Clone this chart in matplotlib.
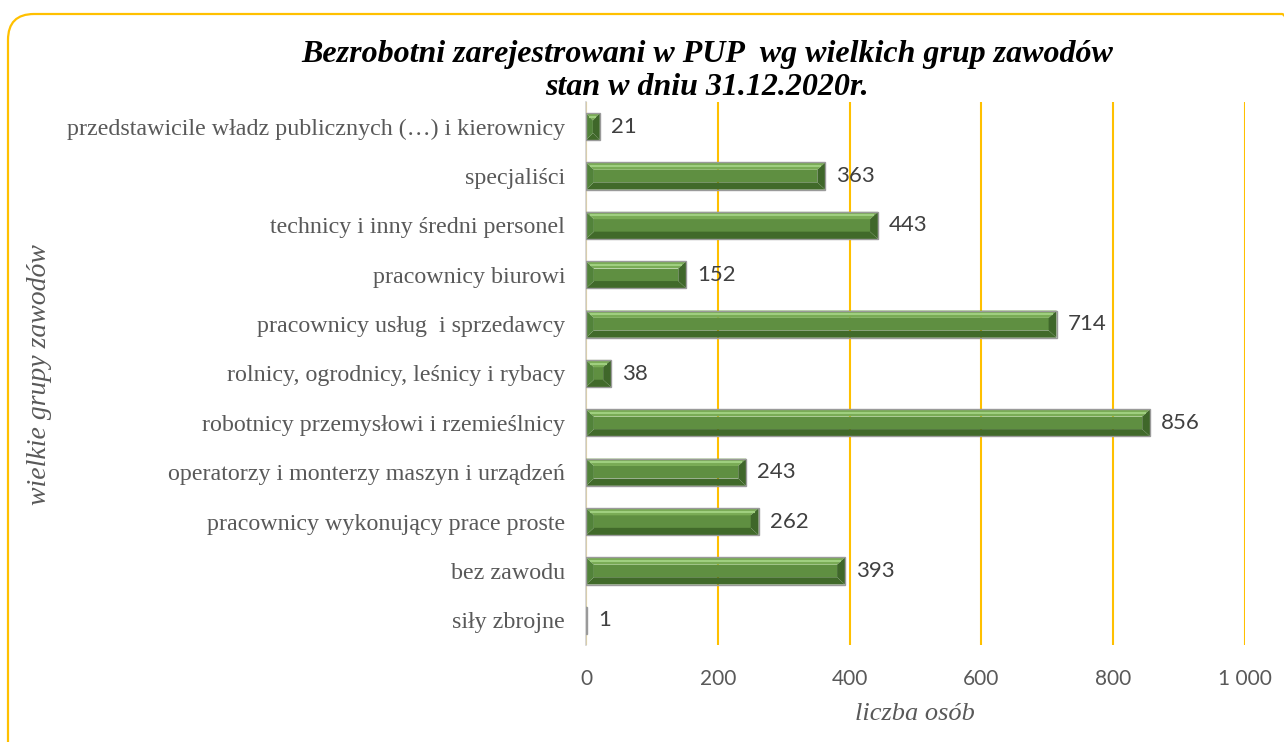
import matplotlib
matplotlib.use("Agg")
import matplotlib.pyplot as plt
from matplotlib.patches import FancyBboxPatch
from matplotlib.ticker import FuncFormatter

# data (top to bottom)
categories = [
    "przedstawicile władz publicznych (…) i kierownicy",
    "specjaliści",
    "technicy i inny średni personel",
    "pracownicy biurowi",
    "pracownicy usług  i sprzedawcy",
    "rolnicy, ogrodnicy, leśnicy i rybacy",
    "robotnicy przemysłowi i rzemieślnicy",
    "operatorzy i monterzy maszyn i urządzeń",
    "pracownicy wykonujący prace proste",
    "bez zawodu",
    "siły zbrojne",
]
values = [21, 363, 443, 152, 714, 38, 856, 243, 262, 393, 1]
xticks = [0, 200, 400, 600, 800, 1000]

title = "Bezrobotni zarejestrowani w PUP  wg wielkich grup zawodów\nstan w dniu 31.12.2020r."
ylabel = "wielkie grupy zawodów"
xlabel = "liczba osób"

GOLD = "#FFC000"
GRAY = "#595959"
serif = "Liberation Serif"
sans = "Lato"
W, H = 1284, 742

fig = plt.figure(figsize=(W / 100, H / 100), dpi=100)

# rounded golden frame, right and bottom sides run off the picture
frame = FancyBboxPatch((8, -40), 1300, H - 14 + 40,
                       boxstyle="round,pad=0,rounding_size=26",
                       transform=None, fill=False,
                       edgecolor=GOLD, linewidth=1.6)
fig.patches.append(frame)

ax = fig.add_axes([586 / W, 1 - 645 / H, (1245 - 586) / W, (645 - 102) / H])

ypos = list(range(len(categories)))[::-1]
h = 0.55
bev_y = h * 0.27       # vertical bevel thickness (data units)
bev_x = 12             # horizontal bevel (data units, ~8 px)


def bevel_bar(ax, y, v):
    bx = min(bev_x, v / 2)
    x0, x1 = 0, v
    yb, yt = y - h / 2, y + h / 2
    # face
    ax.fill([x0 + bx, x1 - bx, x1 - bx, x0 + bx],
            [yb + bev_y, yb + bev_y, yt - bev_y, yt - bev_y], color="#5f8f41", lw=0, zorder=4)
    # top bevel (light)
    ax.fill([x0, x1, x1 - bx, x0 + bx], [yt, yt, yt - bev_y, yt - bev_y],
            color="#79ab55", lw=0, zorder=4)
    ax.plot([x0 + bx * 0.5, x1 - bx * 0.5], [yt - bev_y * 0.5] * 2,
            color="#9fcf7f", lw=1.5, zorder=5, solid_capstyle="butt")
    # bottom bevel (dark)
    ax.fill([x0, x1, x1 - bx, x0 + bx], [yb, yb, yb + bev_y, yb + bev_y],
            color="#416a2a", lw=0, zorder=4)
    # left and right bevels
    ax.fill([x0, x0 + bx, x0 + bx, x0], [yb, yb + bev_y, yt - bev_y, yt],
            color="#52833a", lw=0, zorder=4)
    ax.fill([x1, x1 - bx, x1 - bx, x1], [yb, yb + bev_y, yt - bev_y, yt],
            color="#3f672a", lw=0, zorder=4)


ax.barh(ypos, values, height=h, color="none", edgecolor="#9a9a9a", linewidth=1.0, zorder=6)
for y, v in zip(ypos, values):
    bevel_bar(ax, y, v)
    ax.annotate(str(v), (v, y), xytext=(8, 0), textcoords="offset points",
                va="center", ha="left", fontsize=16, color="#404040", family=sans)

ax.set_xlim(0, 1000)
ax.set_ylim(-0.5, len(categories) - 0.5)
ax.set_xticks(xticks)
ax.xaxis.set_major_formatter(FuncFormatter(lambda x, p: f"{int(x):,}".replace(",", " ")))
ax.set_yticks(ypos)
ax.set_yticklabels(categories, family=serif, fontsize=17.3, color=GRAY)
ax.tick_params(axis="x", length=0, labelsize=15, labelcolor=GRAY, pad=17)
ax.tick_params(axis="y", length=0, pad=15)
for lab in ax.get_xticklabels():
    lab.set_family(sans)

ax.grid(axis="x", color=GOLD, linewidth=1.5, zorder=0)
ax.set_axisbelow(True)
for s in ["top", "right", "bottom"]:
    ax.spines[s].set_visible(False)
ax.spines["left"].set_color("#d0d0d0")
ax.spines["left"].set_linewidth(1.2)
ax.spines["left"].set_zorder(2)

fig.text(707 / W, 1 - 71 / H, title, ha="center", va="center",
         family=serif, fontsize=23, fontweight="bold", fontstyle="italic",
         linespacing=1.15, color="black")
fig.text(40 / W, 1 - 375 / H, ylabel, rotation=90, ha="center", va="center",
         family=serif, fontsize=20, fontstyle="italic", color=GRAY)
fig.text(915 / W, 1 - 714 / H, xlabel, ha="center", va="center",
         family=serif, fontsize=19, fontstyle="italic", color=GRAY)

fig.savefig("out.png", dpi=100)
